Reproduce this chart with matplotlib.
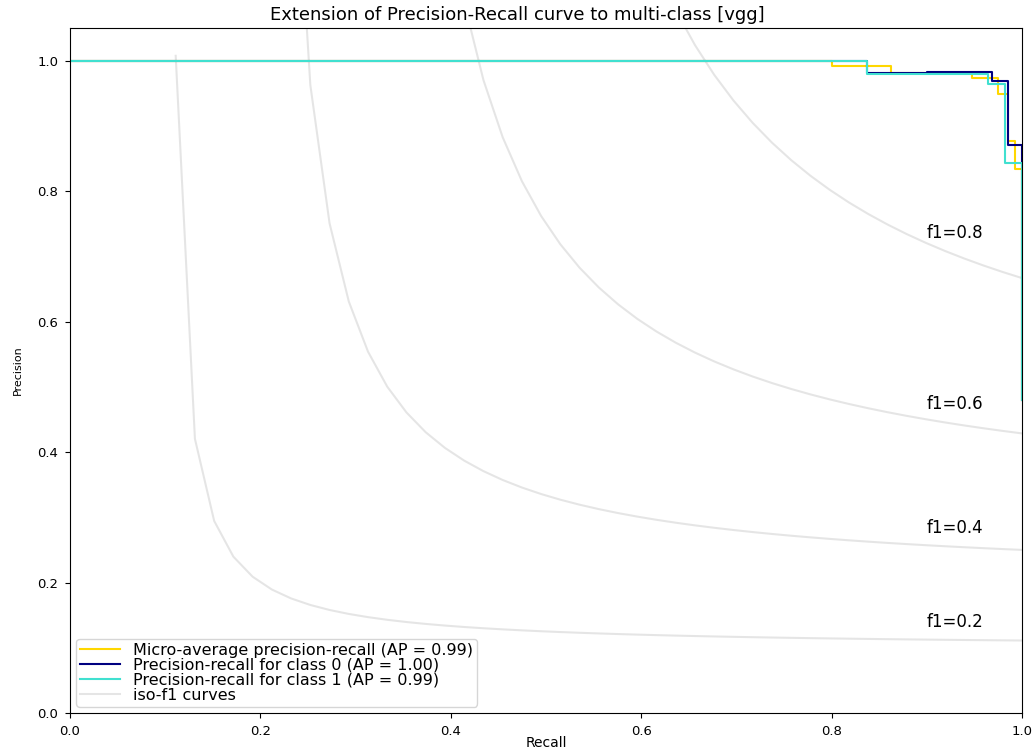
import numpy as np
import matplotlib
matplotlib.use('Agg')
import matplotlib.pyplot as plt

# Точки кривых precision-recall (по возрастанию recall)
micro_recall = [0.0, 0.800, 0.862, 0.948, 0.975, 0.985, 0.993, 1.0]
micro_precision = [1.0, 0.991, 0.981, 0.974, 0.949, 0.877, 0.834, 0.48]

class0_recall = [0.0, 0.837, 0.900, 0.968, 0.985, 1.0]
class0_precision = [1.0, 0.981, 0.982, 0.969, 0.871, 0.48]

class1_recall = [0.0, 0.837, 0.900, 0.964, 0.982, 1.0]
class1_precision = [1.0, 0.979, 0.980, 0.964, 0.843, 0.48]

f_scores = [0.2, 0.4, 0.6, 0.8]

labels = ['Micro-average precision-recall (AP = 0.99)',
          'Precision-recall for class 0 (AP = 1.00)',
          'Precision-recall for class 1 (AP = 0.99)',
          'iso-f1 curves']

fig = plt.figure(figsize=(10.35, 7.49), dpi=100)
ax = fig.add_axes([70 / 1035, 36 / 749, 952 / 1035, 685 / 749])

# iso-f1 кривые
iso_line = None
for f in f_scores:
    x = np.linspace(0.01, 1)
    y = f * x / (2 * x - f)
    iso_line, = ax.plot(x[y >= 0], y[y >= 0], color='gray', alpha=0.2, lw=1.5)
    ax.annotate('f1={0:0.1f}'.format(f), xy=(0.9, y[45] + 0.02), fontsize=12)

l_micro, = ax.step(micro_recall, micro_precision, where='post', color='gold', lw=1.5)
l0, = ax.step(class0_recall, class0_precision, where='post', color='navy', lw=1.5)
l1, = ax.step(class1_recall, class1_precision, where='post', color='turquoise', lw=1.5)

ax.set_xlim(0.0, 1.0)
ax.set_ylim(0.0, 1.05)
ax.tick_params(labelsize=9.5, pad=5)
ax.set_xlabel('Recall', fontsize=10)
ax.xaxis.set_label_coords(0.5, -0.034)
ax.set_ylabel('Precision', fontsize=8, labelpad=10)
ax.set_title('Extension of Precision-Recall curve to multi-class [vgg]',
             fontsize=13, x=0.47)

ax.legend([l_micro, l0, l1, iso_line], labels, loc='lower left', fontsize=11.5,
          labelspacing=0.0, handlelength=2.5, borderaxespad=0.4,
          borderpad=0.25)

fig.savefig('out.png', dpi=100)
